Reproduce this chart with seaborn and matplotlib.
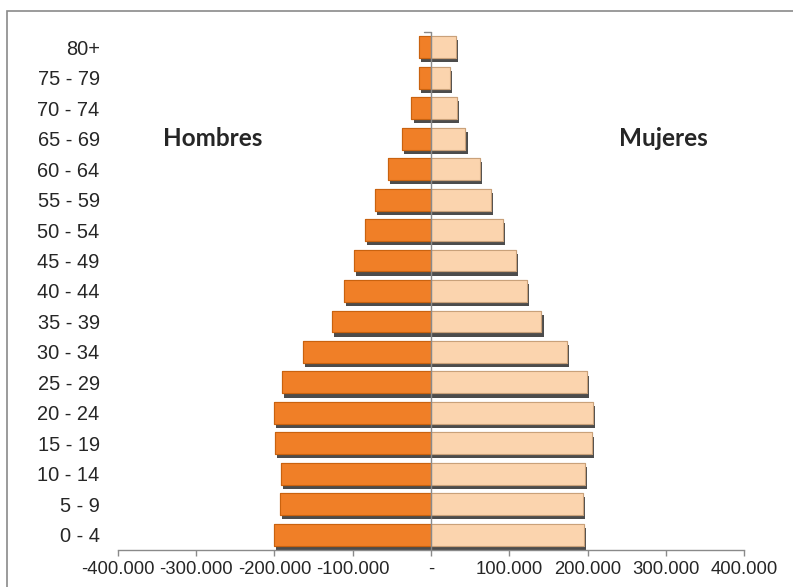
import pandas as pd
import matplotlib.pyplot as plt
import matplotlib.patheffects as pe
from matplotlib.patches import Rectangle
import seaborn as sns

# age groups, bottom (0 - 4) to top (80+)
AGES = ['0 - 4', '5 - 9', '10 - 14', '15 - 19', '20 - 24', '25 - 29', '30 - 34',
        '35 - 39', '40 - 44', '45 - 49', '50 - 54', '55 - 59', '60 - 64',
        '65 - 69', '70 - 74', '75 - 79', '80+']
HOMBRES = [201000, 193000, 191000, 199000, 200000, 190000, 163000, 127000, 111000,
           98000, 84000, 71000, 55000, 37000, 25000, 15000, 15500]
MUJERES = [195000, 194000, 197000, 206000, 207000, 199000, 174000, 141000, 123000,
           108000, 92000, 77000, 62000, 44000, 33500, 24000, 31600]
XTICKS = [-400000, -300000, -200000, -100000, 0, 100000, 200000, 300000, 400000]
XTICKLABELS = ['-400.000', '-300.000', '-200.000', '-100.000', '-',
               '100.000', '200.000', '300.000', '400.000']

COLORS = {'Hombres': '#F07F27', 'Mujeres': '#FBD4AE'}
EDGES = {'Hombres': '#C9620F', 'Mujeres': '#C9A17A'}

df = pd.concat([
    pd.DataFrame({'Edad': AGES, 'Poblacion': [-v for v in HOMBRES], 'Sexo': 'Hombres'}),
    pd.DataFrame({'Edad': AGES, 'Poblacion': MUJERES, 'Sexo': 'Mujeres'}),
], ignore_index=True)

sns.set_style('white')
plt.rcParams['font.family'] = ['Liberation Sans', 'DejaVu Sans']

fig = plt.figure(figsize=(7.93, 5.87), dpi=100)
ax = fig.add_axes([117.7 / 793, 1 - 550 / 587, (744.3 - 117.7) / 793, (550 - 32) / 587])

order = AGES[::-1]
sns.barplot(data=df, y='Edad', x='Poblacion', hue='Sexo', order=order,
            palette=COLORS, dodge=False, width=0.72, orient='h', ax=ax,
            legend=False, saturation=1)

for cont, sexo in zip(ax.containers, ['Hombres', 'Mujeres']):
    for bar in cont:
        bar.set_edgecolor(EDGES[sexo])
        bar.set_linewidth(0.8)
        bar.set_path_effects([pe.withSimplePatchShadow(offset=(1.5, -3), shadow_rgbFace='black', alpha=0.7),
                              pe.Normal()])

ax.set_xlim(-400000, 400000)
ax.set_ylim(len(AGES) - 0.5, -0.5)
ax.set_xticks(XTICKS)
ax.set_xticklabels(XTICKLABELS, fontsize=13.3)
ax.tick_params(axis='x', length=4, width=1, color='#8A8A8A', pad=4, direction='out', bottom=True)
ax.tick_params(axis='y', length=0, pad=13, labelsize=14.4)
ax.set_xlabel('')
ax.set_ylabel('')

for side in ['top', 'right', 'left']:
    ax.spines[side].set_visible(False)
ax.spines['bottom'].set_color('#8A8A8A')
ax.spines['bottom'].set_linewidth(1)

# category axis line at zero
ax.plot([0, 0], [len(AGES) - 0.5, -0.5], color='#8A8A8A', lw=1, zorder=1)
ax.plot([-9000, 0], [-0.5, -0.5], color='#8A8A8A', lw=1, zorder=1, clip_on=False)

ax.text(-279000, 3, 'Hombres', fontsize=17.5, fontweight='bold', family=['Lato', 'DejaVu Sans'],
        ha='center', va='center')
ax.text(297000, 3, 'Mujeres', fontsize=17.5, fontweight='bold', family=['Lato', 'DejaVu Sans'],
        ha='center', va='center')

# outer chart border (partly cut off by the image edge)
fig.patches.append(Rectangle((7 / 793, -0.2), 1.2, 1.2 - 11 / 587, transform=fig.transFigure,
                             fill=False, edgecolor='#8A8A8A', lw=1.2))

fig.savefig('out.png', dpi=100)
